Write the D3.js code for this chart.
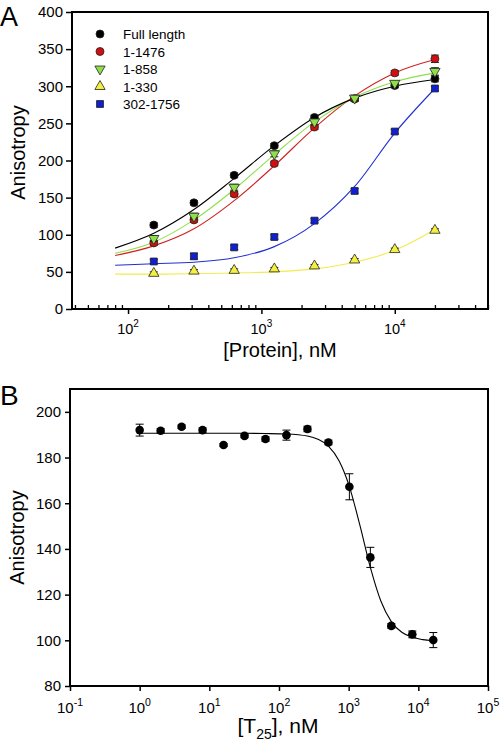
<!DOCTYPE html>
<html>
<head>
<meta charset="utf-8">
<script src="https://cdn.jsdelivr.net/npm/d3@7/dist/d3.min.js"></script>
<style>
  html, body { margin: 0; padding: 0; background: #fff; }
  svg { display: block; font-family: "Liberation Sans", Arial, sans-serif; }
</style>
</head>
<body>
<svg id="chart" width="500" height="744"></svg>
<script>
// ---------- Panel A data ----------
const concA = [156, 312, 625, 1250, 2500, 5000, 10000, 20000];
const seriesNames = ["Full length", "1-1476", "1-858", "1-330", "302-1756"];
const fullLength = [113, 143, 180, 220, 258, 283, 301, 310];
const r1476 = [89, 120, 155, 196, 245, 283, 318, 337];
const r858 = [95, 125, 164, 209, 252, 284, 304, 320];
const r330 = [48, 51, 52, 54, 58, 66, 80, 106];
const r302 = [64, 71, 83, 97, 119, 159, 239, 297];
const errFull = [3, 3, 3, 3, 3, 3, 3, 4];
const err1476 = [3, 3, 3, 3, 3, 3, 3, 5];
const err858 = [4, 4, 4, 4, 4, 4, 3, 5];
const err330 = [2, 2, 2, 2, 2, 2, 2, 2];
const err302 = [3, 4, 3, 3, 3, 3, 3, 3];
// fitted curves
const curveXA = [80, 156, 312, 625, 1250, 2500, 5000, 10000, 20000];
const fitFull = [82, 102, 134, 176, 220, 258, 284, 300, 309];
const fit1476 = [72, 85, 108, 146, 193, 244, 287, 318, 336];
const fit858 = [75, 90, 120, 161, 208, 252, 285, 306, 318];
const fit330 = [47, 47, 47.5, 48.5, 50, 54, 63, 79, 107];
const fit302 = [59, 61, 63, 69, 84, 115, 165, 237, 297];
const yTicksA = [0, 50, 100, 150, 200, 250, 300, 350, 400];
const xMajorA = [100, 1000, 10000];
const xExpA = ["2", "3", "4"];

// ---------- Panel B data ----------
const concB = [1, 2, 4, 8, 16, 32, 64, 128, 256, 512, 1024, 2048, 4096, 8192, 16384];
const anisB = [192.0, 191.7, 193.5, 192.0, 185.5, 189.5, 188.1, 189.8, 192.5, 186.6, 167.2, 136.3, 106.3, 102.6, 100.1];
const errB = [2.6, 1.0, 0.8, 1.0, 0.6, 0.8, 1.0, 2.2, 1.2, 1.0, 5.7, 4.4, 1.0, 1.5, 3.3];
const curveXB = [1, 2, 4, 8, 16, 32, 64, 128, 256, 362, 512, 724, 1024, 1448, 2048, 2896, 4096, 5793, 8192, 11585, 16384];
const fitB = [190.6, 190.6, 190.6, 190.6, 190.6, 190.6, 190.5, 190.3, 189.4, 188.0, 185.0, 178.7, 167.3, 150.4, 131.9, 117.2, 108.2, 103.5, 101.3, 100.3, 99.8];
const yTicksB = [80, 100, 120, 140, 160, 180, 200];
const xMajorB = [0.1, 1, 10, 100, 1000, 10000, 100000];
const xExpB = ["-1", "0", "1", "2", "3", "4", "5"];

const svg = d3.select("#chart");

// ================= PANEL A =================
const A = { l: 72, r: 488, t: 12, b: 309 };
const xA = d3.scaleLog().domain([38, 50000]).range([A.l, A.r]);
const yA = d3.scaleLinear().domain([0, 400]).range([A.b, A.t]);

const styles = [
  { name: seriesNames[0], vals: fullLength, err: errFull, fit: fitFull, fill: "#000000", line: "#000000", sym: d3.symbolCircle, size: 50 },
  { name: seriesNames[1], vals: r1476, err: err1476, fit: fit1476, fill: "#d01010", line: "#d02020", sym: d3.symbolCircle, size: 50 },
  { name: seriesNames[2], vals: r858, err: err858, fit: fit858, fill: "#8ee04a", line: "#8ee04a", sym: "down", size: 46 },
  { name: seriesNames[3], vals: r330, err: err330, fit: fit330, fill: "#f4f040", line: "#f0ec50", sym: d3.symbolTriangle, size: 46 },
  { name: seriesNames[4], vals: r302, err: err302, fit: fit302, fill: "#1020d0", line: "#2030d0", sym: d3.symbolSquare, size: 48 }
];

function symPath(s) {
  if (s.sym === "down") return d3.symbol(d3.symbolTriangle, s.size)();
  return d3.symbol(s.sym, s.size)();
}
function symTransform(s, x, y) {
  return s.sym === "down" ? `translate(${x},${y}) rotate(180)` : `translate(${x},${y})`;
}

const gA = svg.append("g");

// fit curves
const lineA = d3.line().x(d => xA(d[0])).y(d => yA(d[1])).curve(d3.curveMonotoneX);
[3, 4, 1, 2, 0].forEach(i => {
  const s = styles[i];
  gA.append("path")
    .attr("d", lineA(curveXA.map((x, k) => [x, s.fit[k]])))
    .attr("fill", "none").attr("stroke", s.line).attr("stroke-width", 1.1);
});

// error bars + points
[3, 4, 0, 1, 2].forEach(i => {
  const s = styles[i];
  const g = gA.append("g");
  concA.forEach((c, k) => {
    const x = xA(c), y1 = yA(s.vals[k] + s.err[k]), y2 = yA(s.vals[k] - s.err[k]);
    g.append("line").attr("x1", x).attr("x2", x).attr("y1", y1).attr("y2", y2).attr("stroke", "#222").attr("stroke-width", 1);
    g.append("line").attr("x1", x - 4).attr("x2", x + 4).attr("y1", y1).attr("y2", y1).attr("stroke", "#222").attr("stroke-width", 1);
    g.append("line").attr("x1", x - 4).attr("x2", x + 4).attr("y1", y2).attr("y2", y2).attr("stroke", "#222").attr("stroke-width", 1);
  });
  concA.forEach((c, k) => {
    g.append("path").attr("d", symPath(s))
      .attr("transform", symTransform(s, xA(c), yA(s.vals[k])))
      .attr("fill", s.fill).attr("stroke", "#222").attr("stroke-width", 0.8);
  });
});

// legend
styles.forEach((s, i) => {
  const y = 34 + i * 17.5;
  gA.append("path").attr("d", symPath(s))
    .attr("transform", symTransform(s, 100, y))
    .attr("fill", s.fill).attr("stroke", "#222").attr("stroke-width", 0.8);
  gA.append("text").attr("x", 123).attr("y", y + 5).attr("font-size", 13.5).attr("fill", "#000").text(s.name);
});

// axes A
const yAxisA = d3.axisLeft(yA).tickValues(yTicksA).tickSize(6).tickPadding(3).tickFormat(d3.format("d"));
const gyA = gA.append("g").attr("transform", `translate(${A.l},0)`).call(yAxisA);
gyA.select(".domain").remove();
gyA.selectAll("text").attr("font-size", 15).attr("font-family", "Liberation Sans, Arial, sans-serif");
gyA.selectAll("line").attr("stroke-width", 1.5);

const minorA = xA.ticks().filter(v => !xMajorA.includes(v));
const gxAminor = gA.append("g").attr("transform", `translate(0,${A.b})`)
  .call(d3.axisBottom(xA).tickValues(minorA).tickSize(-4).tickFormat(""));
gxAminor.select(".domain").remove();
gxAminor.selectAll("line").attr("stroke-width", 1.3);

const gxA = gA.append("g").attr("transform", `translate(0,${A.b})`)
  .call(d3.axisBottom(xA).tickValues(xMajorA).tickSize(5).tickFormat(""));
gxA.select(".domain").remove();
gxA.selectAll("line").attr("stroke-width", 1.5);
xMajorA.forEach((v, i) => {
  const t = gA.append("text").attr("x", xA(v)).attr("y", 334).attr("text-anchor", "middle").attr("font-size", 14.5).text("10");
  t.append("tspan").attr("font-size", 10).attr("dy", -7).text(xExpA[i]);
});

// frame A
gA.append("path")
  .attr("d", `M${A.l},${A.t}H${A.r}V${A.b}H${A.l}Z`)
  .attr("fill", "none").attr("stroke", "#000").attr("stroke-width", 2);

// titles A
gA.append("text").attr("transform", `translate(25,${(A.t + A.b) / 2 - 8}) rotate(-90)`)
  .attr("text-anchor", "middle").attr("font-size", 20).text("Anisotropy");
gA.append("text").attr("x", (A.l + A.r) / 2).attr("y", 357).attr("text-anchor", "middle").attr("font-size", 20).text("[Protein], nM");
gA.append("text").attr("x", 0).attr("y", 26).attr("font-size", 27).text("A");

// ================= PANEL B =================
const B = { l: 70, r: 488, t: 389, b: 686 };
const xB = d3.scaleLog().domain([0.1, 100000]).range([B.l, B.r]);
const yB = d3.scaleLinear().domain([80, 210]).range([B.b, B.t]);
const gB = svg.append("g");

const lineB = d3.line().x(d => xB(d[0])).y(d => yB(d[1])).curve(d3.curveMonotoneX);
gB.append("path").attr("d", lineB(curveXB.map((x, k) => [x, fitB[k]])))
  .attr("fill", "none").attr("stroke", "#000").attr("stroke-width", 1.1);

concB.forEach((c, k) => {
  const x = xB(c), y1 = yB(anisB[k] + errB[k]), y2 = yB(anisB[k] - errB[k]);
  gB.append("line").attr("x1", x).attr("x2", x).attr("y1", y1).attr("y2", y2).attr("stroke", "#000").attr("stroke-width", 1);
  gB.append("line").attr("x1", x - 4).attr("x2", x + 4).attr("y1", y1).attr("y2", y1).attr("stroke", "#000").attr("stroke-width", 1);
  gB.append("line").attr("x1", x - 4).attr("x2", x + 4).attr("y1", y2).attr("y2", y2).attr("stroke", "#000").attr("stroke-width", 1);
});
gB.selectAll("circle.pt").data(concB).join("circle").attr("class", "pt")
  .attr("cx", d => xB(d)).attr("cy", (d, i) => yB(anisB[i])).attr("r", 4.3).attr("fill", "#000");

const gyB = gB.append("g").attr("transform", `translate(${B.l},0)`)
  .call(d3.axisLeft(yB).tickValues(yTicksB).tickSize(5).tickPadding(4).tickFormat(d3.format("d")));
gyB.select(".domain").remove();
gyB.selectAll("text").attr("font-size", 15).attr("font-family", "Liberation Sans, Arial, sans-serif");
gyB.selectAll("line").attr("stroke-width", 1.5);

const gxB = gB.append("g").attr("transform", `translate(0,${B.b})`)
  .call(d3.axisBottom(xB).tickValues(xMajorB).tickSize(5).tickFormat(""));
gxB.select(".domain").remove();
gxB.selectAll("line").attr("stroke-width", 1.5);
xMajorB.forEach((v, i) => {
  const t = gB.append("text").attr("x", xB(v)).attr("y", 713).attr("text-anchor", "middle").attr("font-size", 15).text("10");
  t.append("tspan").attr("font-size", 10.5).attr("dy", -7).text(xExpB[i]);
});

gB.append("path")
  .attr("d", `M${B.l},${B.t}H${B.r}V${B.b}H${B.l}Z`)
  .attr("fill", "none").attr("stroke", "#000").attr("stroke-width", 2);

gB.append("text").attr("transform", `translate(24,${(B.t + B.b) / 2}) rotate(-90)`)
  .attr("text-anchor", "middle").attr("font-size", 20).text("Anisotropy");
const xl = gB.append("text").attr("x", 278).attr("y", 733).attr("text-anchor", "middle").attr("font-size", 21);
xl.append("tspan").text("[T");
xl.append("tspan").attr("font-size", 14).attr("dy", 6).text("25");
xl.append("tspan").attr("dy", -6).text("], nM");
gB.append("text").attr("x", 0).attr("y", 405).attr("font-size", 28).text("B");
</script>
</body>
</html>
